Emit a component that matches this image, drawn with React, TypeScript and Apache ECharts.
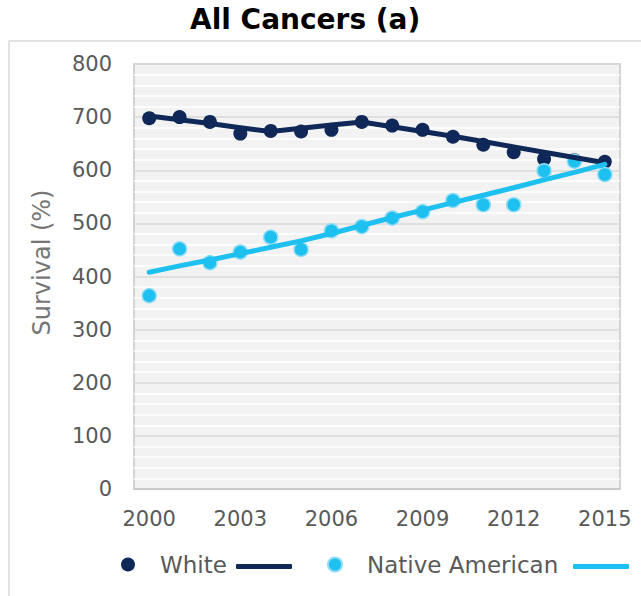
import React, { useEffect, useRef } from 'react';
import * as echarts from 'echarts';

const years = ['2000', '2001', '2002', '2003', '2004', '2005', '2006', '2007', '2008', '2009', '2010', '2011', '2012', '2013', '2014', '2015'];
const white = [698, 700, 691, 669, 674, 673, 676, 691, 684, 676, 663, 648, 634, 621, 619, 616];
const whiteFit = [702, 695, 688, 680, 673, 679, 685, 691, 682, 673, 664, 654, 644, 634, 624, 614];
const native = [364, 452, 426, 446, 474, 451, 486, 494, 510, 522, 543, 535, 535, 599, 617, 592];
const nativeFit = [408, 420, 431, 443, 455, 467, 481, 496, 511, 525, 539, 553, 567, 582, 596, 611];

const DARK = '#0f2858';
const LIGHT = '#1ec0ef';
const FONT = 'DejaVu Sans';

export default function App() {
  const ref = useRef<HTMLDivElement>(null);
  useEffect(() => {
    const chart = echarts.init(ref.current!, null, { renderer: 'svg' });
    const legendText = { fontFamily: FONT, fontSize: 23, color: '#595959' };
    chart.setOption({
      animation: false,
      backgroundColor: '#ffffff',
      title: {
        text: 'All Cancers (a)',
        left: 190,
        top: 5,
        padding: 0,
        textStyle: { fontFamily: FONT, fontWeight: 'bold', fontSize: 28, color: '#000000' },
      },
      graphic: [
        {
          type: 'rect',
          z: -10,
          shape: { x: 9, y: 41, width: 700, height: 700 },
          style: { fill: 'none', stroke: '#d9d9d9', lineWidth: 1.5 },
        },
      ],
      legend: [
        {
          data: [{ name: 'White', icon: 'circle' }],
          left: 121, top: 553, padding: 0, itemWidth: 54, itemHeight: 14,
          textStyle: legendText, selectedMode: false,
        },
        {
          data: [{ name: 'White trend', icon: 'roundRect' }],
          left: 236, top: 564, padding: 0, itemWidth: 56, itemHeight: 5,
          formatter: () => '', textStyle: legendText, selectedMode: false,
        },
        {
          data: [{ name: 'Native American', icon: 'circle' }],
          left: 327, top: 553, padding: 0, itemWidth: 54, itemHeight: 14,
          textStyle: legendText, selectedMode: false,
        },
        {
          data: [{ name: 'Native American trend', icon: 'roundRect' }],
          left: 573, top: 564, padding: 0, itemWidth: 56, itemHeight: 5,
          formatter: () => '', textStyle: legendText, selectedMode: false,
        },
      ],
      grid: {
        left: 134, right: 21, top: 64, bottom: 107,
        show: true, backgroundColor: '#f2f2f2', borderColor: '#c6c6c6', borderWidth: 1.5,
      },
      xAxis: {
        type: 'category',
        data: years,
        boundaryGap: true,
        axisLine: { show: true, lineStyle: { color: '#c6c6c6', width: 1.5 } },
        axisTick: { show: false },
        axisLabel: { interval: 2, margin: 19, fontFamily: FONT, fontSize: 21, color: '#595959' },
        splitLine: { show: false },
      },
      yAxis: {
        type: 'value',
        min: 0, max: 800, interval: 100,
        name: 'Survival (%)',
        nameLocation: 'middle',
        nameGap: 80,
        nameTextStyle: { fontFamily: FONT, fontSize: 24, color: '#767676', padding: [0, 0, 0, 28] },
        axisLine: { show: false },
        axisTick: { show: false },
        axisLabel: { margin: 22, fontFamily: FONT, fontSize: 21, color: '#595959' },
        splitLine: { show: true, lineStyle: { color: '#d9d9d9', width: 1.5 } },
        minorTick: { show: false, splitNumber: 5 },
        minorSplitLine: { show: true, lineStyle: { color: '#ffffff', width: 1.5 } },
      },
      series: [
        {
          name: 'White trend', type: 'line', data: whiteFit, symbol: 'none',
          color: DARK, lineStyle: { color: DARK, width: 5, cap: 'round', join: 'round' },
        },
        {
          name: 'Native American trend', type: 'line', data: nativeFit, symbol: 'none',
          color: LIGHT, lineStyle: { color: LIGHT, width: 5, cap: 'round', join: 'round' },
        },
        {
          name: 'White', type: 'scatter', data: white, symbol: 'circle', symbolSize: 14,
          color: DARK, itemStyle: { color: DARK, opacity: 1 },
        },
        {
          name: 'Native American', type: 'scatter', data: native, symbol: 'circle', symbolSize: 14,
          color: LIGHT, itemStyle: { color: LIGHT, borderColor: '#8fdcf5', borderWidth: 1.5, opacity: 1 },
        },
      ],
    });
    return () => chart.dispose();
  }, []);
  return (
    <div
      ref={ref}
      style={{ position: 'absolute', left: 0, top: 0, width: 641, height: 596, background: '#fff' }}
    />
  );
}
